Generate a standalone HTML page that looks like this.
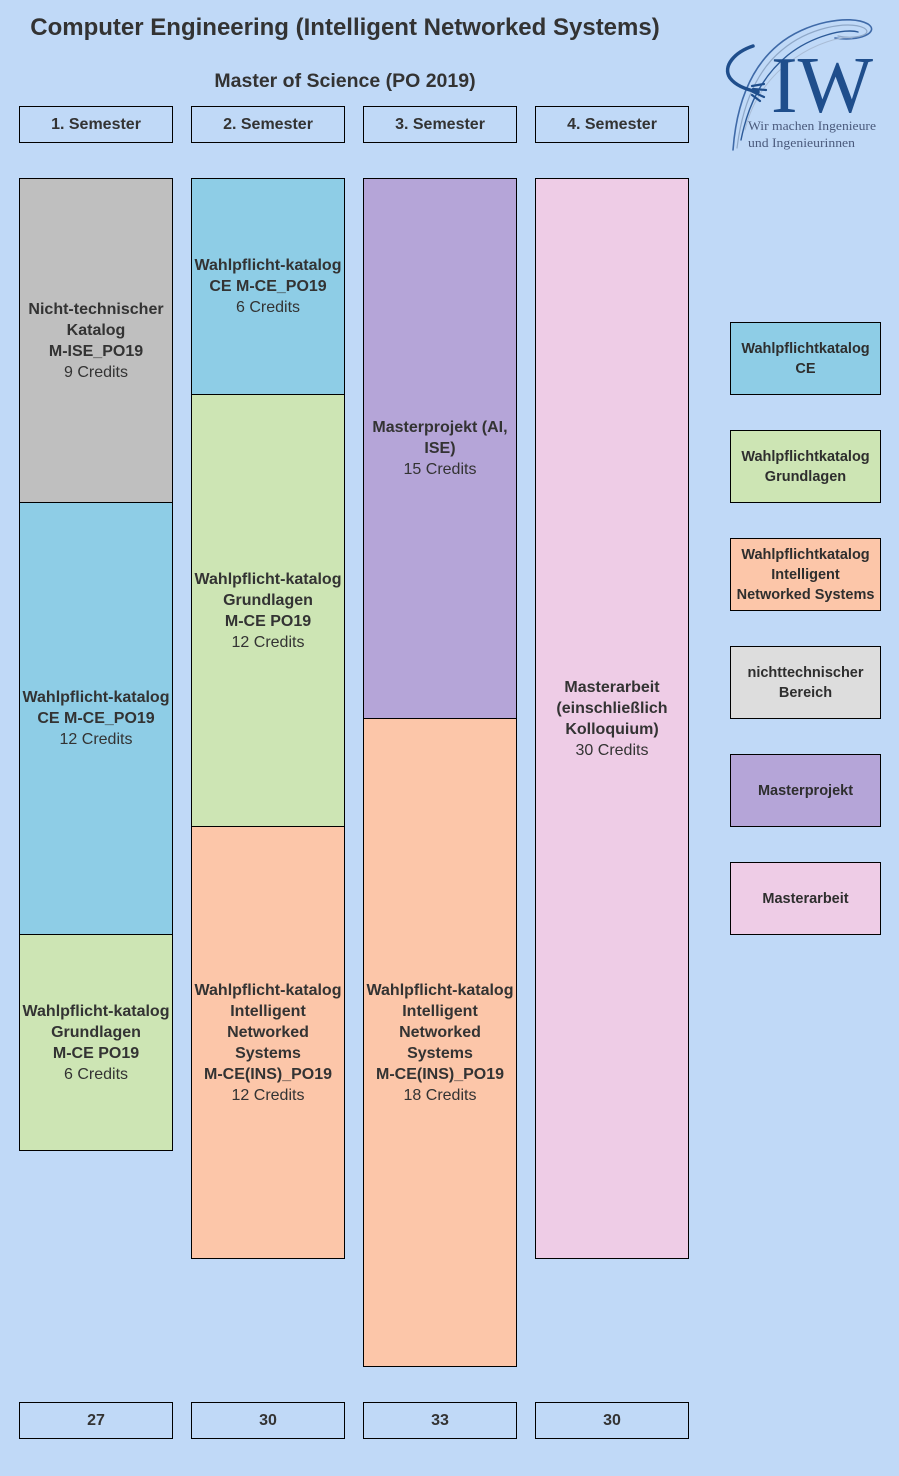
<!DOCTYPE html>
<html>
<head>
<meta charset="utf-8">
<style>
  html,body{margin:0;padding:0;}
  body{width:899px;height:1476px;background:#c0d9f7;position:relative;overflow:hidden;
    font-family:"Liberation Sans",Arial,sans-serif;color:#333;}
  .abs{position:absolute;box-sizing:border-box;}
  .box{position:absolute;box-sizing:border-box;border:1px solid #000;display:flex;
    align-items:center;justify-content:center;text-align:center;font-size:16px;line-height:21px;
    white-space:nowrap;}
  .b{font-weight:bold;}
  .hdr{font-weight:bold;font-size:16px;}
  .leg{font-size:14.5px;line-height:20px;font-weight:bold;color:#2e2e2e;}
  .gray{background:#bfbfbf;}
  .blue{background:#8ecde6;}
  .green{background:#cde5b4;}
  .salmon{background:#fcc6a9;}
  .purple{background:#b5a5d8;}
  .pink{background:#eeccE6;}
  .lgray{background:#dddddd;}
</style>
</head>
<body>
<div class="abs" style="left:0;top:11px;width:690px;text-align:center;font-weight:bold;font-size:24px;line-height:34px;white-space:nowrap;">Computer Engineering (Intelligent Networked Systems)</div>
<div class="abs" style="left:10px;top:68px;width:670px;text-align:center;font-weight:bold;font-size:19.5px;line-height:26px;white-space:nowrap;">Master of Science (PO 2019)</div>

<!-- logo -->
<svg class="abs" style="left:720px;top:10px;" width="170" height="150" viewBox="720 10 170 150">
  <g fill="none" stroke-linecap="round">
    <path d="M733 150 C736 110 748 70 778 45 C805 22 850 14 868 24 C880 32 860 42 835 38" stroke="#3f6aa8" stroke-width="1.6"/>
    <path d="M737 148 C742 108 755 72 782 50 C808 28 848 20 864 28 C874 34 856 40 838 36" stroke="#8fa8c8" stroke-width="1.2"/>
    <path d="M741 140 C748 105 762 76 788 55 C812 36 845 28 858 32" stroke="#2c5a98" stroke-width="1.4"/>
    <path d="M745 130 C752 100 770 75 795 58 C815 44 840 36 852 38" stroke="#a9bcd6" stroke-width="1"/>
    <path d="M753 46 C735 52 722 66 730 78 C736 86 748 90 758 92" stroke="#1f4e8c" stroke-width="3.5"/>
    <path d="M752 86 L764 84 M753 89 L766 90 M753 92 L764 97 M752 95 L760 101" stroke="#1f4e8c" stroke-width="2.2"/>
  </g>
  <text x="771" y="112" font-family="Liberation Serif, serif" font-size="80" fill="#1f4e8c" textLength="102" lengthAdjust="spacingAndGlyphs">IW</text>
  <text x="748" y="130" font-family="Liberation Serif, serif" font-size="13" fill="#4a5a7c" textLength="128" lengthAdjust="spacingAndGlyphs">Wir machen Ingenieure</text>
  <text x="748" y="147" font-family="Liberation Serif, serif" font-size="13" fill="#4a5a7c" textLength="107" lengthAdjust="spacingAndGlyphs">und Ingenieurinnen</text>
</svg>

<!-- semester headers -->
<div class="box hdr" style="left:19px;top:106px;width:154px;height:37px;">1. Semester</div>
<div class="box hdr" style="left:191px;top:106px;width:154px;height:37px;">2. Semester</div>
<div class="box hdr" style="left:363px;top:106px;width:154px;height:37px;">3. Semester</div>
<div class="box hdr" style="left:535px;top:106px;width:154px;height:37px;">4. Semester</div>

<!-- column 1 -->
<div class="box gray" style="left:19px;top:178px;width:154px;height:325px;"><div><span class="b">Nicht-technischer<br>Katalog<br>M-ISE_PO19</span><br>9 Credits</div></div>
<div class="box blue" style="left:19px;top:502px;width:154px;height:433px;"><div><span class="b">Wahlpflicht-katalog<br>CE M-CE_PO19</span><br>12 Credits</div></div>
<div class="box green" style="left:19px;top:934px;width:154px;height:217px;"><div><span class="b">Wahlpflicht-katalog<br>Grundlagen<br>M-CE PO19</span><br>6 Credits</div></div>

<!-- column 2 -->
<div class="box blue" style="left:191px;top:178px;width:154px;height:217px;"><div><span class="b">Wahlpflicht-katalog<br>CE M-CE_PO19</span><br>6 Credits</div></div>
<div class="box green" style="left:191px;top:394px;width:154px;height:433px;"><div><span class="b">Wahlpflicht-katalog<br>Grundlagen<br>M-CE PO19</span><br>12 Credits</div></div>
<div class="box salmon" style="left:191px;top:826px;width:154px;height:433px;"><div><span class="b">Wahlpflicht-katalog<br>Intelligent<br>Networked<br>Systems<br>M-CE(INS)_PO19</span><br>12 Credits</div></div>

<!-- column 3 -->
<div class="box purple" style="left:363px;top:178px;width:154px;height:541px;"><div><span class="b">Masterprojekt (AI,<br>ISE)</span><br>15 Credits</div></div>
<div class="box salmon" style="left:363px;top:718px;width:154px;height:649px;"><div><span class="b">Wahlpflicht-katalog<br>Intelligent<br>Networked<br>Systems<br>M-CE(INS)_PO19</span><br>18 Credits</div></div>

<!-- column 4 -->
<div class="box pink" style="left:535px;top:178px;width:154px;height:1081px;"><div><span class="b">Masterarbeit<br>(einschließlich<br>Kolloquium)</span><br>30 Credits</div></div>

<!-- totals -->
<div class="box hdr" style="left:19px;top:1402px;width:154px;height:37px;">27</div>
<div class="box hdr" style="left:191px;top:1402px;width:154px;height:37px;">30</div>
<div class="box hdr" style="left:363px;top:1402px;width:154px;height:37px;">33</div>
<div class="box hdr" style="left:535px;top:1402px;width:154px;height:37px;">30</div>

<!-- legend -->
<div class="box leg blue" style="left:730px;top:322px;width:151px;height:73px;"><div>Wahlpflichtkatalog<br>CE</div></div>
<div class="box leg green" style="left:730px;top:430px;width:151px;height:73px;"><div>Wahlpflichtkatalog<br>Grundlagen</div></div>
<div class="box leg salmon" style="left:730px;top:538px;width:151px;height:73px;"><div>Wahlpflichtkatalog<br>Intelligent<br>Networked Systems</div></div>
<div class="box leg lgray" style="left:730px;top:646px;width:151px;height:73px;"><div>nichttechnischer<br>Bereich</div></div>
<div class="box leg purple" style="left:730px;top:754px;width:151px;height:73px;"><div>Masterprojekt</div></div>
<div class="box leg pink" style="left:730px;top:862px;width:151px;height:73px;"><div>Masterarbeit</div></div>
</body>
</html>
